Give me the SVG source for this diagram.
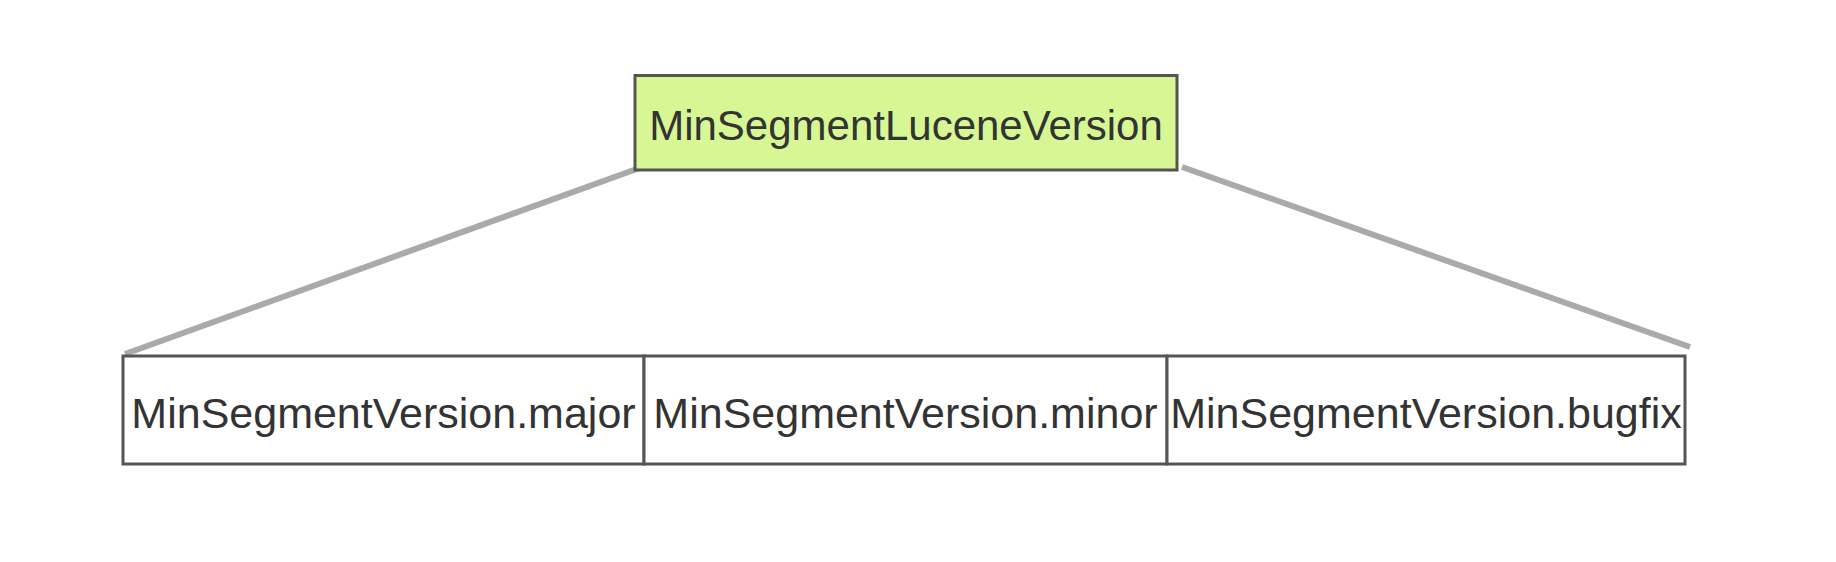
<svg xmlns="http://www.w3.org/2000/svg" width="1836" height="562" viewBox="0 0 1836 562">
<style>
.box{stroke:#555;stroke-width:3}
.lbl{font-family:"Liberation Sans",Arial,sans-serif;font-size:42px;fill:#333;text-anchor:middle}
.sub{font-size:43px}
.edge{stroke:#aaa;stroke-width:6;fill:none}
</style>
<rect width="1836" height="562" fill="#fff"/>
<g id="connectors">
<line class="edge" x1="645" y1="166" x2="125" y2="354"/>
<line class="edge" x1="1182" y1="167" x2="1690" y2="347"/>
</g>
<g id="root">
<rect class="box" x="635" y="75.5" width="542" height="94.5" fill="#d6f794"/>
<text class="lbl" x="906" y="140">MinSegmentLuceneVersion</text>
</g>
<g id="major">
<rect class="box" x="123" y="356" width="521" height="108" fill="#fff"/>
<text class="lbl sub" x="383.5" y="428">MinSegmentVersion.major</text>
</g>
<g id="minor">
<rect class="box" x="644" y="356" width="523" height="108" fill="#fff"/>
<text class="lbl sub" x="905.5" y="428">MinSegmentVersion.minor</text>
</g>
<g id="bugfix">
<rect class="box" x="1167" y="356" width="518" height="108" fill="#fff"/>
<text class="lbl sub" x="1426" y="428">MinSegmentVersion.bugfix</text>
</g>
</svg>
